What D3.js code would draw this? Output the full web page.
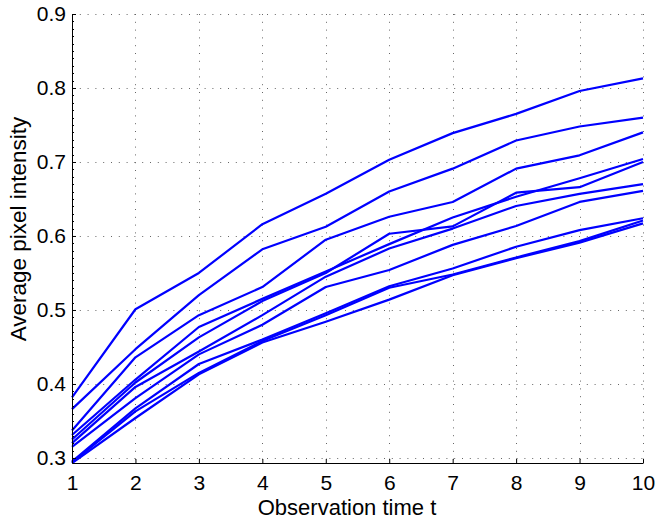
<!DOCTYPE html>
<html><head><meta charset="utf-8">
<script src="https://cdn.jsdelivr.net/npm/d3@7"></script>
<style>body{margin:0;background:#fff}svg{display:block}</style>
</head><body>
<script>
const times = [1,2,3,4,5,6,7,8,9,10];
const seriesA = [0.382,0.501,0.550,0.616,0.657,0.703,0.739,0.765,0.796,0.813];
const seriesB = [0.366,0.447,0.520,0.582,0.6125,0.660,0.691,0.729,0.748,0.760];
const seriesC = [0.337,0.436,0.493,0.531,0.595,0.626,0.646,0.691,0.709,0.740];
const seriesE = [0.331,0.406,0.477,0.515,0.552,0.589,0.625,0.653,0.678,0.704];
const seriesF = [0.325,0.402,0.463,0.512,0.550,0.603,0.613,0.6585,0.666,0.700];
const seriesG = [0.320,0.396,0.444,0.493,0.545,0.583,0.610,0.6405,0.657,0.670];
const seriesH = [0.315,0.381,0.440,0.480,0.531,0.554,0.588,0.6135,0.646,0.661];
const seriesI = [0.295,0.367,0.427,0.460,0.4955,0.532,0.556,0.5855,0.608,0.624];
const seriesJ = [0.294,0.363,0.415,0.458,0.493,0.530,0.548,0.571,0.593,0.621];
const seriesK = [0.293,0.354,0.413,0.456,0.484,0.514,0.547,0.570,0.591,0.617];
const allSeries = [seriesA,seriesB,seriesC,seriesE,seriesF,seriesG,seriesH,seriesI,seriesJ,seriesK];
const yTicks = [0.3,0.4,0.5,0.6,0.7,0.8,0.9];
const xTicks = [1,2,3,4,5,6,7,8,9,10];
const xLabel = "Observation time t";
const yLabel = "Average pixel intensity";

const W = 655, H = 519;
const m = {left:72, right:12, top:14, bottom:56};
const svg = d3.select("body").append("svg").attr("width",W).attr("height",H);
const x = d3.scaleLinear().domain([1,10]).range([m.left, W-m.right]);
const y = d3.scaleLinear().domain([0.2932,0.9]).range([H-m.bottom, m.top]);
const font = "'Liberation Sans', Arial, Helvetica, sans-serif";

// grid
const g = svg.append("g");
g.selectAll(".vg").data(xTicks.slice(1)).enter().append("line")
  .attr("x1",d=>Math.round(x(d))+0.5).attr("x2",d=>Math.round(x(d))+0.5)
  .attr("y1",y(0.9)).attr("y2",H-m.bottom)
  .attr("stroke","#666").attr("stroke-width",1).attr("stroke-dasharray","1,6.8");
g.selectAll(".hg").data(yTicks).enter().append("line")
  .attr("y1",d=>Math.round(y(d))+0.5).attr("y2",d=>Math.round(y(d))+0.5)
  .attr("x1",m.left).attr("x2",x(10)+1)
  .attr("stroke","#666").attr("stroke-width",1).attr("stroke-dasharray","1,6.8");

// lines
const line = d3.line().x((d,i)=>x(times[i])).y(d=>y(d));
svg.append("g").selectAll("path").data(allSeries).enter().append("path")
  .attr("d",line).attr("fill","none").attr("stroke","#0000ff")
  .attr("stroke-width",2.2).attr("stroke-linejoin","round");

// axes
const xAxis = d3.axisBottom(x).tickValues(xTicks).tickSizeInner(-4).tickSizeOuter(0).tickPadding(12).tickFormat(d3.format("d"));
const yAxis = d3.axisLeft(y).tickValues(yTicks).tickSizeInner(-4).tickSizeOuter(0).tickPadding(6).tickFormat(d3.format(".1f"));
const gx = svg.append("g").attr("transform",`translate(0,${H-m.bottom})`).call(xAxis);
const gy = svg.append("g").attr("transform",`translate(${m.left},0)`).call(yAxis);
[gx,gy].forEach(a=>{
  a.select(".domain").attr("stroke","#000").attr("stroke-width",1);
  a.selectAll(".tick line").attr("stroke","#000");
  a.selectAll("text").attr("font-family",font).attr("font-size",21).attr("fill","#000");
});
// minor ticks on y
const minor = d3.range(30,91).map(v=>v/100);
gy.append("g").selectAll("line").data(minor).enter().append("line")
  .attr("x1",0).attr("x2",2).attr("y1",d=>Math.round(y(d))+0.5).attr("y2",d=>Math.round(y(d))+0.5)
  .attr("stroke","#000").attr("stroke-width",1);

svg.append("text").attr("x",347).attr("y",H-4)
  .attr("text-anchor","middle").attr("font-family",font).attr("font-size",22).text(xLabel);
svg.append("text").attr("transform",`translate(26,229) rotate(-90)`)
  .attr("text-anchor","middle").attr("font-family",font).attr("font-size",22.5).text(yLabel);
</script>
</body></html>
